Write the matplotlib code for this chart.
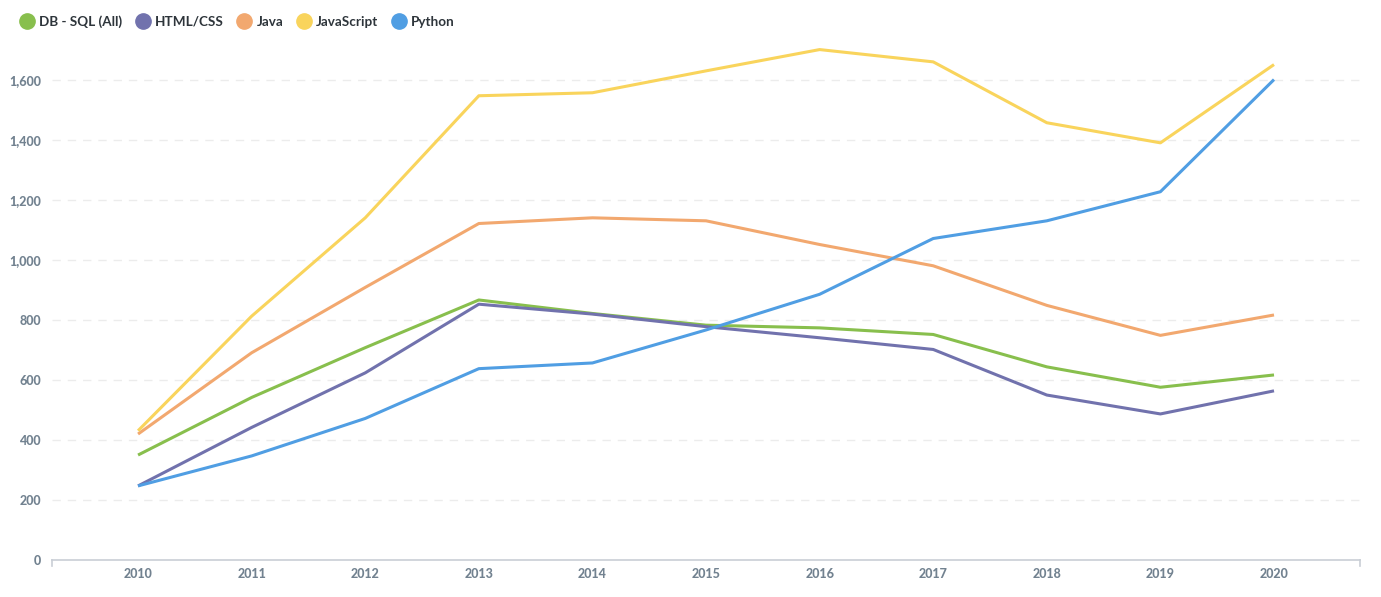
import matplotlib
matplotlib.use("Agg")
import matplotlib.pyplot as plt
from matplotlib.lines import Line2D
from matplotlib.ticker import FuncFormatter

# values
years = [2010, 2011, 2012, 2013, 2014, 2015, 2016, 2017, 2018, 2019, 2020]
db_sql = [350, 542, 708, 867, 822, 783, 774, 752, 644, 576, 617]
html_css = [247, 442, 624, 853, 820, 778, 741, 702, 550, 487, 564]
java = [420, 691, 909, 1122, 1141, 1131, 1052, 981, 849, 749, 817]
javascript = [431, 813, 1141, 1548, 1558, 1631, 1702, 1661, 1458, 1391, 1652]
python = [247, 347, 472, 638, 657, 767, 886, 1072, 1131, 1228, 1602]

series_names = ["DB - SQL (All)", "HTML/CSS", "Java", "JavaScript", "Python"]
colors = ["#88BF4D", "#7172AD", "#F2A86F", "#F9D45C", "#509EE3"]

plt.rcParams["font.family"] = ["Lato", "DejaVu Sans"]

tick_color = "#728290"
text_color = "#2e353b"
axis_color = "#c9ced6"

fig = plt.figure(figsize=(13.81, 5.97), dpi=100)
ax = fig.add_axes([0.0377, 0.062, 0.9471, 0.864])

for vals, name, col in zip([db_sql, html_css, java, javascript, python], series_names, colors):
    ax.plot(years, vals, color=col, lw=2.2, label=name, solid_capstyle="butt")

ax.set_xlim(2009.243, 2020.757)
ax.set_ylim(0, 1720)
ax.set_xticks(years)
ax.set_yticks(range(0, 1601, 200))
ax.yaxis.set_major_formatter(FuncFormatter(lambda v, p: f"{int(v):,}"))

for s in ["top", "right", "left"]:
    ax.spines[s].set_visible(False)
ax.spines["bottom"].set_color(axis_color)
ax.spines["bottom"].set_linewidth(1.2)

ax.tick_params(axis="both", length=0, labelcolor=tick_color, labelsize=9)
ax.tick_params(axis="x", pad=6)
ax.tick_params(axis="y", pad=8)
for lbl in ax.get_xticklabels() + ax.get_yticklabels():
    lbl.set_fontweight("black")

# dashed grid, skip the baseline
for yv in range(200, 1601, 200):
    ax.axhline(yv, color="#ececec", lw=1, ls=(0, (6, 5)), zorder=0)

# small end ticks on the x axis
for xe in (0, 1):
    ax.plot([xe, xe], [0, -0.012], transform=ax.transAxes, color=axis_color,
            lw=1.2, clip_on=False)

handles = [Line2D([], [], ls="none", marker="o", markersize=11, color=c,
                  markeredgecolor=c) for c in colors]
leg = fig.legend(handles, series_names, loc="upper left", bbox_to_anchor=(0.008, 0.995),
                 ncol=5, frameon=False, handlelength=0.6, handletextpad=0.6,
                 columnspacing=1.22, prop={"size": 9.7, "weight": "bold"})
for t in leg.get_texts():
    t.set_color(text_color)

fig.savefig("out.png", dpi=100)
